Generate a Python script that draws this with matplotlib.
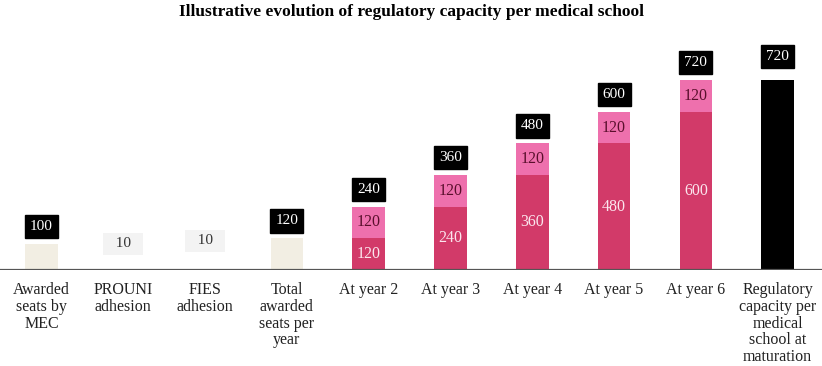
import matplotlib
matplotlib.use("Agg")
import matplotlib.pyplot as plt

categories = ["Awarded\nseats by\nMEC", "PROUNI\nadhesion", "FIES\nadhesion",
              "Total\nawarded\nseats per\nyear", "At year 2", "At year 3", "At year 4",
              "At year 5", "At year 6",
              "Regulatory\ncapacity per\nmedical\nschool at\nmaturation"]

# waterfall part
wf_bottom = [0, 100, 110, 0]
wf_value = [100, 10, 10, 120]
# stacked ramp-up
years_base = [120, 240, 360, 480, 600]
years_new = [120, 120, 120, 120, 120]
years_total = [240, 360, 480, 600, 720]
maturity = 720

beige = "#f2eee3"
dark_pink = "#d23a69"
light_pink = "#ee70ad"

plt.rcParams["font.family"] = ["Liberation Serif", "DejaVu Serif"]

fig = plt.figure(figsize=(8.22, 3.66), dpi=100)
ax = fig.add_axes([0, (366 - 270) / 366, 1, 237.5 / 366])
ax.set_xlim(-0.507, 9.542)
ax.set_ylim(0, 900)
w = 0.40

def black_label(x, y, txt, dy=16):
    ax.annotate(txt, (x, y), xytext=(0, dy), textcoords="offset points",
                ha="center", va="center", color="white", fontsize=11,
                bbox=dict(boxstyle="square,pad=0.33", fc="black", ec="black"))

# waterfall bars
for i, (b, v) in enumerate(zip(wf_bottom, wf_value)):
    ax.bar(i, v, bottom=b, width=w, color=beige if v > 10 else "#f4f4f4", lw=0)
    if v > 10:
        black_label(i, b + v, str(v), dy=12.5)
    else:
        ax.text(i, b + v / 2 - 5, "  " + str(v) + "  ", ha="center", va="center",
                fontsize=11, color="#333333",
                bbox=dict(boxstyle="square,pad=0.3", fc="#f3f3f3", ec="none"))

# stacked years
for j, (base, new, tot) in enumerate(zip(years_base, years_new, years_total)):
    x = 4 + j
    ax.bar(x, base, width=w, color=dark_pink, lw=0)
    ax.bar(x, new, bottom=base, width=w, color=light_pink, lw=0)
    ax.text(x, base / 2, str(base), ha="center", va="center", fontsize=11.5,
            color="#fbe6ee")
    ax.text(x, base + new / 2, str(new), ha="center", va="center", fontsize=11.5,
            color="#5a0f2c")
    black_label(x, tot, str(tot), dy=12.5)

# maturity
ax.bar(9, maturity, width=w, color="black", lw=0)
black_label(9, maturity, str(maturity), dy=17)

ax.axhline(0, color="#555555", lw=1.6)
ax.set_xticks(range(len(categories)))
ax.set_xticklabels(categories, fontsize=11.5, color="#222222", linespacing=1.05)
ax.tick_params(axis="x", length=0, pad=9)
ax.set_yticks([])
for s in ax.spines.values():
    s.set_visible(False)

fig.text(0.5, 1 - 12 / 366, "Illustrative evolution of regulatory capacity per medical school",
         ha="center", va="center", fontsize=12.5, fontweight="bold")

fig.savefig("out.png", dpi=100)
